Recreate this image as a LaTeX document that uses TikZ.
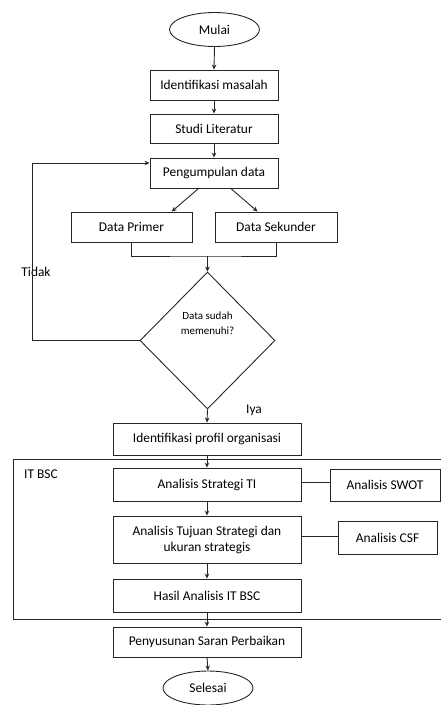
\documentclass[tikz,border=0pt]{standalone}
\usepackage{fontspec}
\setmainfont{Carlito}
\usetikzlibrary{shapes.geometric,arrows.meta,calc}
\tikzset{
  base/.style={draw=black!85, line width=0.9pt, inner sep=0pt, align=center,
    font=\fontsize{13.4}{16}\selectfont},
  box/.style={base, rectangle, minimum width=188pt, minimum height=#1},
  box/.default=32pt,
  term/.style={base, ellipse, minimum width=90pt, minimum height=34pt},
  decis/.style={draw=black!85, line width=0.9pt, diamond, inner sep=0pt,
    minimum width=135pt, minimum height=137pt},
  lbl/.style={font=\fontsize{13.4}{16}\selectfont, inner sep=0pt},
  conn/.style={draw=black!85, line width=0.9pt},
  arr/.style={conn, -{Stealth[length=5pt,width=4.5pt]}}
}
\begin{document}
\begin{tikzpicture}[x=1pt,y=-1pt]
\useasboundingbox (0,0) rectangle (441,705);
% nodes
\node[term] (mulai) at (214.5,29.5) {Mulai};
\node[box, minimum width=128pt, minimum height=30pt] (idm) at (214,85) {Identifikasi masalah};
\node[box, minimum width=128pt, minimum height=29pt] (studi) at (214,128.5) {Studi Literatur};
\node[box, minimum width=128pt, minimum height=30pt] (peng) at (214,173) {Pengumpulan data};
\node[box, minimum width=121pt, minimum height=30pt] (dp) at (131.5,227) {Data Primer};
\node[box, minimum width=122pt, minimum height=30pt] (ds) at (276,227) {Data Sekunder};
\node[decis] (dec) at (207.5,340.5) {};
\node[align=center, inner sep=0pt, font=\fontsize{11}{15}\selectfont] (dectext) at (207.5,323.5) {Data sudah\\memenuhi?};
\node[lbl] (tidak) at (36,272) {Tidak};
\node[lbl] (iya) at (254,410) {Iya};
\node[box=32pt] (idp) at (207,439) {Identifikasi profil organisasi};
\node[lbl, anchor=west] (itbsc) at (24,474) {IT BSC};
\node[box=33pt] (ast) at (207,484.5) {Analisis Strategi TI};
\node[box, minimum width=110pt, minimum height=32pt] (swot) at (385,485) {Analisis SWOT};
\node[box=47pt] (tuj) at (207,539.5) {Analisis Tujuan Strategi dan\\ukuran strategis};
\node[box, minimum width=99pt, minimum height=33pt] (csf) at (387.5,537.5) {Analisis CSF};
\node[box=33pt] (hasil) at (207,595.5) {Hasil Analisis IT BSC};
\node[box=30pt] (peny) at (207,642) {Penyusunan Saran Perbaikan};
\node[term] (sel) at (208,688) {Selesai};
% IT BSC frame (right side runs off the picture)
\coordinate (f1) at (441,459);
\coordinate (f2) at (13,459);
\coordinate (f3) at (13,619);
\coordinate (f4) at (441,619);
\draw[conn] (f1) -- (f2) -- (f3) -- (f4);
% connectors
\draw[arr] (mulai.south) -- (idm.north);
\draw[arr] (idm.south) -- (studi.north);
\draw[arr] (studi.south) -- (peng.north);
\draw[arr] ($(peng.south west)!0.38!(peng.south east)$) -- ($(dp.north west)!0.83!(dp.north east)$);
\draw[arr] ($(peng.south west)!0.63!(peng.south east)$) -- ($(ds.north west)!0.35!(ds.north east)$);
\coordinate (mj) at (dec.north |- 0,256);
\draw[conn] (dp.south) |- (mj) -| (ds.south);
\draw[arr] (mj) -- (dec.north);
\coordinate (lp) at (32,163);
\draw[arr] (dec.west) -| (lp) -- (peng.west |- lp);
\draw[arr] (dec.south) -- (idp.north);
\draw[arr] (idp.south) -- (ast.north);
\draw[conn] (ast.east |- 0,482) -- (swot.west |- 0,482);
\draw[arr] (ast.south) -- (tuj.north);
\draw[conn] (tuj.east |- 0,536) -- (csf.west |- 0,536);
\draw[arr] (tuj.south) -- (hasil.north);
\draw[arr] (hasil.south) -- (peny.north);
\draw[arr] (peny.south) -- (sel.north);
\end{tikzpicture}
\end{document}
